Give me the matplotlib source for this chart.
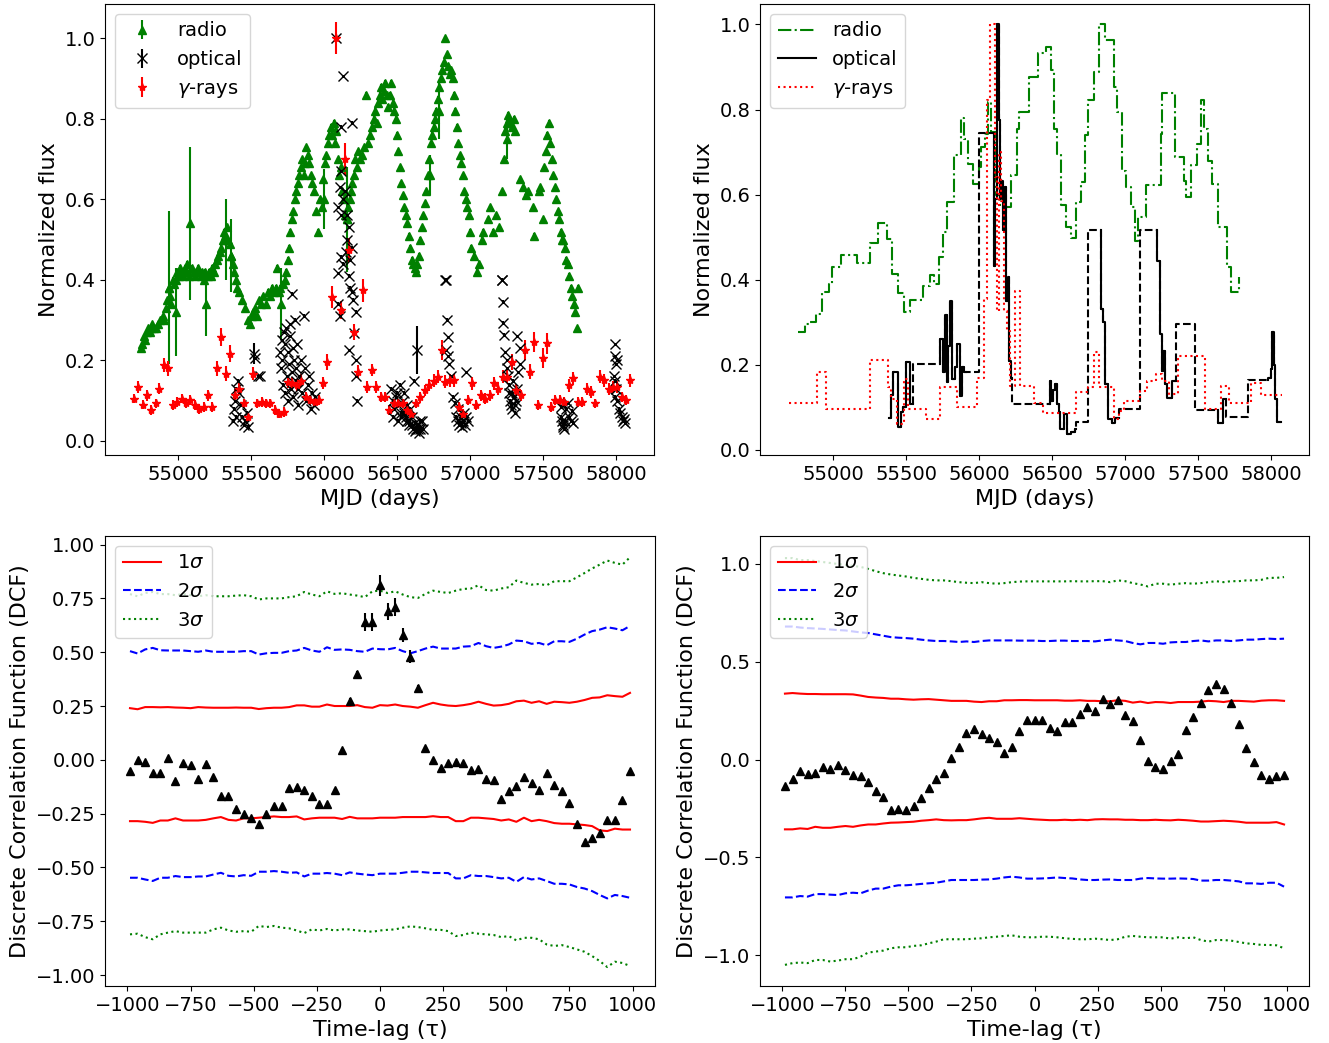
import matplotlib
matplotlib.use('Agg')
import matplotlib.pyplot as plt

# ---------------- Top-left: light curves ----------------
radio_mjd = [
    54745, 54755, 54765, 54775, 54785, 54795, 54805, 54815, 54825, 54835, 54850, 54865, 54880,
    54895, 54905, 54915, 54925, 54935, 54945, 54955, 54965, 54975,
    54985, 54995, 55005, 55015, 55025, 55035, 55045, 55055, 55065, 55075,
    55095, 55105, 55115, 55125, 55135, 55145, 55155, 55165, 55175, 55185,
    55205, 55215, 55225, 55235, 55245,
    55255, 55265, 55275, 55285, 55295, 55305, 55315, 55325, 55335, 55345,
    55355, 55365, 55375, 55385, 55395, 55405, 55420, 55440,
    55460, 55480, 55495, 55505, 55515, 55525, 55540, 55555, 55570, 55585, 55600,
    55615, 55630, 55645, 55660, 55670, 55680, 55690, 55700, 55720, 55730, 55740, 55750,
    55760, 55770, 55780, 55790, 55800, 55810, 55820, 55830, 55840, 55850,
    55860, 55870, 55880, 55890, 55900, 55910, 55920, 55930, 55945, 55960,
    55975, 55985, 55995, 56005, 56015, 56025, 56035, 56045, 56055, 56065,
    56075, 56085, 56095, 56105, 56115, 56125, 56135, 56145, 56155, 56165,
    56175, 56185,
    56195, 56205, 56215, 56225, 56235, 56245, 56260, 56275, 56290, 56300,
    56315, 56330, 56340, 56350, 56360, 56370, 56380, 56390, 56400, 56410,
    56420, 56430, 56440, 56450, 56460, 56470, 56480, 56490,
    56500, 56510, 56520, 56530, 56540, 56550, 56560, 56570, 56580, 56590,
    56600, 56610, 56620, 56630, 56640, 56650, 56660, 56670, 56680,
    56690, 56700, 56710, 56720, 56730, 56740, 56750, 56760, 56770, 56780,
    56790, 56800, 56810, 56820, 56830, 56840, 56850, 56860, 56870,
    56880, 56890, 56900, 56910, 56920, 56930, 56940, 56950, 56960, 56970,
    56980, 56990, 57000, 57010, 57030, 57050, 57060, 57080, 57090,
    57120, 57140, 57160, 57180, 57200,
    57220, 57230, 57240, 57250, 57260, 57270, 57280, 57290, 57300, 57310,
    57340, 57360, 57380, 57400, 57430, 57440, 57470, 57480,
    57500, 57510, 57520, 57530, 57540, 57550, 57560, 57570, 57580, 57590,
    57600, 57610, 57620, 57630, 57640, 57650, 57660, 57670, 57680, 57690,
    57700, 57710, 57720, 57730, 57740]
radio_flux = [
    0.23, 0.24, 0.26, 0.25, 0.27, 0.28, 0.27, 0.28, 0.29, 0.28, 0.28, 0.29, 0.30,
    0.31, 0.30, 0.33, 0.35, 0.38, 0.36, 0.34, 0.40, 0.39,
    0.40, 0.42, 0.41, 0.43, 0.42, 0.41, 0.43, 0.42, 0.44, 0.41,
    0.43, 0.42, 0.41, 0.42, 0.43, 0.42, 0.41, 0.42, 0.40, 0.42,
    0.41, 0.42, 0.41, 0.43, 0.42,
    0.44, 0.45, 0.46, 0.47, 0.48, 0.50, 0.52, 0.51, 0.53, 0.50,
    0.49, 0.46, 0.44, 0.42, 0.40, 0.38, 0.37, 0.35,
    0.33, 0.30, 0.29, 0.31, 0.32, 0.33, 0.31, 0.35, 0.34, 0.36, 0.34,
    0.37, 0.36, 0.38, 0.37, 0.38, 0.43, 0.37, 0.38, 0.39, 0.40, 0.42, 0.45,
    0.48, 0.52, 0.55, 0.57, 0.60, 0.62, 0.64, 0.66, 0.68, 0.70,
    0.66, 0.69, 0.73, 0.71, 0.69, 0.66, 0.64, 0.62, 0.57, 0.52,
    0.60, 0.58, 0.65, 0.69, 0.71, 0.74, 0.76, 0.78, 0.76, 0.79,
    0.74, 0.77, 0.70, 0.66, 0.68, 0.62, 0.60, 0.56, 0.55, 0.58,
    0.60, 0.62,
    0.64, 0.66, 0.70, 0.68, 0.72, 0.70, 0.71, 0.73, 0.86, 0.74,
    0.76, 0.78, 0.80, 0.82, 0.79, 0.84, 0.86, 0.88, 0.85, 0.87,
    0.89, 0.86, 0.83, 0.86, 0.89, 0.84, 0.82, 0.80,
    0.76, 0.72, 0.68, 0.64, 0.61, 0.58, 0.56, 0.54, 0.51, 0.48,
    0.45, 0.44, 0.43, 0.42, 0.44, 0.46, 0.50, 0.53, 0.56,
    0.59, 0.62, 0.66, 0.70, 0.74, 0.76, 0.78, 0.80, 0.82, 0.85,
    0.88, 0.90, 0.92, 0.94, 1.00, 0.96, 0.93, 0.91, 0.92,
    0.90, 0.86, 0.82, 0.78, 0.74, 0.71, 0.69, 0.66, 0.62, 0.60,
    0.58, 0.56, 0.52, 0.48, 0.46, 0.42, 0.44, 0.50, 0.52,
    0.55, 0.58, 0.52, 0.56, 0.53,
    0.62, 0.70, 0.77, 0.79, 0.81, 0.80, 0.79, 0.78, 0.80, 0.77,
    0.65, 0.63, 0.61, 0.62, 0.58, 0.51, 0.62, 0.63,
    0.55, 0.68, 0.72, 0.76, 0.79, 0.74, 0.70, 0.66, 0.63, 0.60,
    0.57, 0.55, 0.52, 0.50, 0.50, 0.48, 0.45, 0.44, 0.41, 0.38,
    0.36, 0.34, 0.32, 0.28, 0.38]

radio_big_mjd = [54940, 54988, 55085, 55195, 55328, 55365, 55705, 55998, 56156, 56727, 56788, 57250]
radio_big_flux = [0.38, 0.32, 0.54, 0.34, 0.50, 0.46, 0.34, 0.60, 0.55, 0.66, 0.82, 0.75]
radio_big_err = [0.19, 0.11, 0.19, 0.08, 0.10, 0.09, 0.09, 0.075, 0.13, 0.05, 0.07, 0.05]

opt_mjd = [
    55380, 55385, 55390, 55395, 55400, 55410, 55420, 55430, 55440, 55450, 55460, 55470, 55480,
    55530, 55545, 55560, 55779,
    55700, 55705, 55710, 55715, 55720, 55725, 55730, 55735, 55740, 55745,
    55750, 55755, 55760, 55765, 55770, 55775, 55780, 55785, 55790, 55795,
    55800, 55805, 55810, 55815, 55820, 55825, 55830,
    55840, 55850, 55860, 55870, 55880, 55890, 55900, 55910, 55920, 55930, 55940,
    56083, 56131, 56119, 56192, 56115, 56107, 56095, 56131, 56119, 56156,
    56168, 56156, 56192, 56119, 56131, 56095, 56168, 56180, 56192, 56095,
    56107, 56217, 56204, 56168, 56217, 56217, 56229, 56143, 56150, 56175,
    56200,
    56460, 56470, 56480, 56490, 56500, 56510, 56520, 56530, 56540, 56550,
    56560, 56570, 56580, 56590, 56600, 56610, 56620, 56630, 56640, 56650,
    56660, 56670, 56680,
    56615, 56475, 56505, 56525, 56545, 56565, 56585, 56605, 56625, 56645, 56655,
    56832, 56834, 56842, 56846, 56838, 56848, 56858, 56870, 56882, 56894,
    56906, 56915, 56925, 56935, 56945, 56955, 56965, 56975, 56985, 56970,
    56920, 56940, 56960,
    57219, 57222, 57226, 57228, 57233, 57238, 57250, 57255, 57260, 57265,
    57270, 57275, 57280, 57285, 57290, 57295, 57300, 57305, 57310, 57315,
    57320, 57325, 57345, 57330, 57340,
    57620, 57625, 57630, 57635, 57640, 57645, 57650, 57660, 57670, 57675, 57690, 57700, 57705,
    57990, 57995, 58000, 58005, 57985, 57990, 58000, 57995, 58010, 58020,
    58030, 58040, 58050, 58055, 58060]
opt_flux = [
    0.05, 0.08, 0.10, 0.06, 0.13, 0.15, 0.12, 0.09, 0.06, 0.04, 0.05, 0.07, 0.035,
    0.205, 0.16, 0.16, 0.366,
    0.22, 0.18, 0.25, 0.20, 0.14, 0.27, 0.12, 0.24, 0.28, 0.16,
    0.10, 0.22, 0.19, 0.26, 0.29, 0.13, 0.17, 0.23, 0.11, 0.20,
    0.30, 0.15, 0.18, 0.24, 0.13, 0.09, 0.16,
    0.20, 0.12, 0.31, 0.18, 0.10, 0.14, 0.16, 0.08, 0.12, 0.09, 0.11,
    1.0, 0.905, 0.78, 0.79, 0.67, 0.63, 0.58, 0.60, 0.56, 0.56,
    0.53, 0.50, 0.48, 0.457, 0.44, 0.416, 0.41, 0.38, 0.37, 0.34,
    0.31, 0.32, 0.267, 0.225, 0.20, 0.16, 0.10, 0.62, 0.47, 0.45,
    0.35,
    0.13, 0.10, 0.08, 0.11, 0.12, 0.09, 0.14, 0.07, 0.10, 0.12,
    0.06, 0.09, 0.05, 0.08, 0.04, 0.03, 0.025, 0.03, 0.04, 0.02,
    0.03, 0.05, 0.03,
    0.15, 0.06, 0.05, 0.06, 0.07, 0.05, 0.04, 0.06, 0.045, 0.03, 0.05,
    0.40, 0.40, 0.30, 0.257, 0.225, 0.21, 0.19, 0.16, 0.11, 0.095,
    0.06, 0.05, 0.04, 0.06, 0.035, 0.05, 0.04, 0.06, 0.05, 0.17,
    0.08, 0.045, 0.07,
    0.40, 0.40, 0.345, 0.293, 0.263, 0.22, 0.20, 0.18, 0.16, 0.14,
    0.12, 0.10, 0.09, 0.08, 0.12, 0.15, 0.11, 0.09, 0.07, 0.10,
    0.13, 0.26, 0.23, 0.17, 0.19,
    0.085, 0.06, 0.05, 0.04, 0.035, 0.03, 0.05, 0.08, 0.095, 0.06, 0.05, 0.075, 0.045,
    0.24, 0.21, 0.19, 0.20, 0.16, 0.15, 0.13, 0.11, 0.10, 0.08,
    0.07, 0.06, 0.05, 0.055, 0.045]

opt_big_mjd = [55523, 56635]
opt_big_flux = [0.217, 0.225]
opt_big_err = [0.025, 0.06]

gamma_mjd = [
    54696, 54725, 54757, 54786, 54818, 54847, 54873, 54903, 54934, 54964,
    54993, 55024, 55054, 55085, 55117, 55146, 55178, 55207, 55236, 55268,
    55297, 55328, 55355, 55389, 55418, 55450, 55479, 55511, 55540, 55572,
    55601, 55633, 55662, 55693, 55723, 55752, 55783, 55815, 55844, 55876,
    55905, 55937, 55966, 55993, 56022, 56053, 56083, 56114, 56143, 56173,
    56204, 56234, 56265, 56294, 56326, 56355, 56387, 56416, 56448, 56477,
    56509, 56538, 56569, 56598, 56630, 56659, 56691, 56720, 56752, 56781,
    56805, 56832, 56861, 56890, 56922, 56951, 56983, 57012, 57044, 57073,
    57104, 57134, 57165, 57194, 57226, 57255, 57287, 57316, 57348, 57377,
    57409, 57438, 57467, 57499, 57525, 57555, 57584, 57615, 57645, 57676,
    57705, 57737, 57766, 57798, 57827, 57859, 57888, 57920, 57949, 57981,
    58010, 58041, 58070, 58097]
gamma_flux = [
    0.105, 0.134, 0.090, 0.113, 0.076, 0.093, 0.130, 0.188, 0.180, 0.089,
    0.097, 0.105, 0.093, 0.101, 0.089, 0.080, 0.085, 0.113, 0.085, 0.180,
    0.258, 0.167, 0.217, 0.113, 0.130, 0.093, 0.060, 0.167, 0.093, 0.097,
    0.093, 0.093, 0.076, 0.068, 0.072, 0.147, 0.143, 0.138, 0.150, 0.109,
    0.101, 0.097, 0.101, 0.143, 0.196, 0.358, 1.000, 0.325, 0.700, 0.474,
    0.271, 0.172, 0.374, 0.134, 0.176, 0.134, 0.109, 0.109, 0.076, 0.093,
    0.093, 0.093, 0.076, 0.068, 0.093, 0.109, 0.126, 0.138, 0.150, 0.159,
    0.225, 0.147, 0.151, 0.151, 0.085, 0.068, 0.101, 0.143, 0.089, 0.113,
    0.105, 0.113, 0.143, 0.130, 0.159, 0.159, 0.196, 0.126, 0.113, 0.225,
    0.172, 0.246, 0.089, 0.205, 0.242, 0.085, 0.101, 0.101, 0.097, 0.138,
    0.155, 0.097, 0.097, 0.130, 0.122, 0.093, 0.159, 0.151, 0.130, 0.134,
    0.134, 0.109, 0.101, 0.151]
gamma_err = [
    0.012, 0.015, 0.012, 0.013, 0.012, 0.012, 0.014, 0.018, 0.018, 0.012,
    0.012, 0.012, 0.012, 0.012, 0.012, 0.012, 0.012, 0.014, 0.012, 0.018,
    0.022, 0.018, 0.020, 0.015, 0.015, 0.012, 0.012, 0.016, 0.012, 0.012,
    0.012, 0.012, 0.012, 0.012, 0.012, 0.015, 0.015, 0.015, 0.015, 0.013,
    0.012, 0.012, 0.012, 0.015, 0.020, 0.027, 0.040, 0.022, 0.040, 0.030,
    0.020, 0.016, 0.028, 0.015, 0.016, 0.015, 0.013, 0.013, 0.012, 0.012,
    0.012, 0.012, 0.012, 0.012, 0.012, 0.013, 0.014, 0.015, 0.015, 0.016,
    0.025, 0.016, 0.016, 0.016, 0.012, 0.012, 0.013, 0.016, 0.012, 0.013,
    0.013, 0.013, 0.016, 0.015, 0.016, 0.016, 0.020, 0.015, 0.013, 0.025,
    0.018, 0.025, 0.012, 0.025, 0.025, 0.012, 0.013, 0.013, 0.013, 0.016,
    0.016, 0.013, 0.013, 0.015, 0.015, 0.012, 0.016, 0.016, 0.015, 0.015,
    0.015, 0.013, 0.013, 0.016]

# ---------------- Top-right: block light curves ----------------
radio_blk_mjd = [
    54762, 54805, 54842, 54886, 54927, 54971, 54995, 55056, 55163, 55251,
    55309, 55372, 55406, 55445, 55487, 55528, 55616, 55664, 55689, 55725,
    55754, 55779, 55827, 55876, 55900, 55925, 55956, 56002, 56017, 56039,
    56063, 56083, 56114, 56143, 56217, 56258, 56277, 56345, 56406, 56460,
    56491, 56516, 56533, 56562, 56598, 56630, 56667, 56698, 56727, 56744,
    56788, 56820, 56866, 56922, 56946, 56976, 57007, 57039, 57068, 57092,
    57141, 57243, 57255, 57341, 57404, 57421, 57450, 57494, 57518, 57538,
    57567, 57596, 57640, 57701, 57725, 57778]
radio_blk_flux = [
    0.278, 0.296, 0.300, 0.320, 0.370, 0.390, 0.430, 0.457, 0.439, 0.486,
    0.533, 0.496, 0.414, 0.368, 0.323, 0.352, 0.386, 0.412, 0.390, 0.453,
    0.512, 0.582, 0.692, 0.779, 0.731, 0.673, 0.626, 0.665, 0.712, 0.743,
    0.818, 0.747, 0.600, 0.570, 0.645, 0.755, 0.794, 0.877, 0.932, 0.947,
    0.892, 0.755, 0.696, 0.575, 0.524, 0.498, 0.582, 0.630, 0.740, 0.822,
    0.889, 1.000, 0.963, 0.853, 0.794, 0.655, 0.618, 0.571, 0.490, 0.547,
    0.623, 0.743, 0.839, 0.688, 0.633, 0.594, 0.669, 0.720, 0.822, 0.755,
    0.680, 0.626, 0.525, 0.430, 0.370, 0.407]

opt_blk_mjd = [
    55382, 55394, 55414, 55443, 55465, 55479, 55499, 55528, 55547, 55730,
    55754, 55766, 55779, 55791, 55803, 55815, 55835, 55852, 55869, 55883,
    55900, 55912, 55997, 56102, 56112, 56122, 56126, 56136, 56143, 56151,
    56163, 56175, 56187, 56197, 56207, 56217, 56229, 56484, 56496, 56508,
    56521, 56533, 56545, 56557, 56581, 56606, 56630, 56655, 56667, 56744,
    56837, 56849, 56861, 56886, 56910, 56934, 56958, 57100, 57221, 57238,
    57251, 57263, 57275, 57287, 57323, 57348, 57479, 57636, 57670, 57692,
    57839, 57980, 58000, 58010, 58020, 58030, 58040, 58066]
opt_blk_flux = [
    0.076, 0.130, 0.184, 0.053, 0.088, 0.100, 0.206, 0.107, 0.202, 0.260,
    0.182, 0.316, 0.159, 0.245, 0.351, 0.166, 0.194, 0.249, 0.127, 0.194,
    0.184, 0.184, 0.745, 0.433, 0.590, 0.775, 1.000, 0.775, 0.590, 0.633,
    0.516, 0.618, 0.351, 0.406, 0.210, 0.170, 0.107, 0.162, 0.115, 0.140,
    0.155, 0.107, 0.088, 0.049, 0.084, 0.037, 0.041, 0.049, 0.066, 0.516,
    0.331, 0.300, 0.155, 0.072, 0.064, 0.076, 0.096, 0.516, 0.445, 0.272,
    0.186, 0.233, 0.155, 0.123, 0.162, 0.297, 0.094, 0.064, 0.120, 0.077,
    0.165, 0.170, 0.190, 0.276, 0.200, 0.120, 0.066, 0.066]
# 1 = densely sampled block (solid), 0 = gap between observations (dashed)
opt_blk_sampled = [
    1, 1, 1, 1, 1, 1, 1, 1, 0, 1,
    1, 1, 1, 1, 1, 1, 1, 1, 1, 1,
    1, 0, 0, 1, 1, 1, 1, 1, 1, 1,
    1, 1, 1, 1, 1, 1, 0, 1, 1, 1,
    1, 1, 1, 1, 1, 1, 1, 1, 0, 0,
    1, 1, 1, 1, 1, 1, 0, 0, 1, 1,
    1, 1, 1, 1, 1, 0, 0, 1, 1, 0,
    0, 1, 1, 1, 1, 1, 1, 1]

gamma_blk_mjd = [
    54696, 54891, 54951, 55251, 55377, 55394, 55440, 55487, 55511, 55640,
    55733, 55847, 55986, 56034, 56058, 56073, 56107, 56122, 56136, 56151,
    56170, 56190, 56209, 56246, 56280, 56375, 56436, 56667, 56744, 56788,
    56825, 56922, 56958, 56995, 57104, 57153, 57214, 57250, 57299, 57360,
    57545, 57658, 57715, 57862, 57930, 58077]
gamma_blk_flux = [
    0.110, 0.184, 0.096, 0.211, 0.147, 0.120, 0.060, 0.166, 0.096, 0.072,
    0.147, 0.101, 0.170, 0.355, 0.822, 1.000, 0.641, 0.327, 0.700, 0.586,
    0.327, 0.280, 0.150, 0.374, 0.150, 0.110, 0.086, 0.135, 0.147, 0.229,
    0.148, 0.072, 0.092, 0.114, 0.139, 0.162, 0.178, 0.162, 0.131, 0.221,
    0.096, 0.150, 0.111, 0.158, 0.129, 0.129]

# ---------------- Bottom: DCF ----------------
lags = [-990, -960, -930, -900, -870, -840, -810, -780, -750, -720,
        -690, -660, -630, -600, -570, -540, -510, -480, -450, -420,
        -390, -360, -330, -300, -270, -240, -210, -180, -150, -120,
        -90, -60, -30, 0, 30, 60, 90, 120, 150, 180,
        210, 240, 270, 300, 330, 360, 390, 420, 450, 480,
        510, 540, 570, 600, 630, 660, 690, 720, 750, 780,
        810, 840, 870, 900, 930, 960, 990]

dcf_ro = [-0.05, 0.0, -0.01, -0.06, -0.06, 0.01, -0.10, -0.014, -0.025, -0.087,
          -0.02, -0.08, -0.17, -0.17, -0.23, -0.25, -0.27, -0.30, -0.25, -0.215,
          -0.215, -0.13, -0.127, -0.14, -0.166, -0.204, -0.204, -0.14, 0.045, 0.275,
          0.40, 0.64, 0.64, 0.81, 0.69, 0.71, 0.58, 0.48, 0.334, 0.053,
          0.0, -0.04, -0.017, -0.01, -0.017, -0.045, -0.042, -0.09, -0.096, -0.18,
          -0.145, -0.12, -0.08, -0.11, -0.14, -0.06, -0.115, -0.145, -0.20, -0.30,
          -0.38, -0.365, -0.34, -0.28, -0.28, -0.185, -0.053]
dcf_ro_err = [0.008, 0.008, 0.008, 0.008, 0.008, 0.008, 0.008, 0.008, 0.008, 0.008,
              0.008, 0.008, 0.008, 0.008, 0.008, 0.008, 0.008, 0.008, 0.008, 0.008,
              0.008, 0.008, 0.008, 0.008, 0.008, 0.008, 0.008, 0.008, 0.008, 0.012,
              0.012, 0.040, 0.040, 0.050, 0.040, 0.040, 0.033, 0.030, 0.015, 0.010,
              0.008, 0.008, 0.008, 0.008, 0.008, 0.008, 0.008, 0.008, 0.008, 0.008,
              0.008, 0.008, 0.008, 0.008, 0.008, 0.008, 0.008, 0.008, 0.008, 0.008,
              0.008, 0.008, 0.008, 0.008, 0.008, 0.008, 0.008]
ro_up1 = [0.240, 0.235, 0.245, 0.245, 0.244, 0.245, 0.243, 0.242, 0.240, 0.245,
          0.243, 0.242, 0.242, 0.242, 0.243, 0.242, 0.242, 0.236, 0.240, 0.242,
          0.242, 0.245, 0.253, 0.253, 0.247, 0.247, 0.257, 0.250, 0.250, 0.250,
          0.254, 0.245, 0.242, 0.254, 0.252, 0.257, 0.250, 0.247, 0.242, 0.254,
          0.265, 0.257, 0.252, 0.250, 0.254, 0.260, 0.270, 0.260, 0.252, 0.254,
          0.260, 0.272, 0.275, 0.265, 0.272, 0.260, 0.270, 0.268, 0.265, 0.270,
          0.278, 0.288, 0.290, 0.300, 0.296, 0.293, 0.311]
ro_lo1 = [-0.285, -0.285, -0.288, -0.293, -0.282, -0.282, -0.272, -0.282, -0.282, -0.282,
          -0.279, -0.272, -0.266, -0.279, -0.282, -0.272, -0.272, -0.269, -0.266, -0.263,
          -0.266, -0.266, -0.263, -0.277, -0.272, -0.269, -0.269, -0.269, -0.275, -0.265,
          -0.272, -0.272, -0.272, -0.269, -0.269, -0.269, -0.266, -0.266, -0.266, -0.266,
          -0.262, -0.266, -0.266, -0.285, -0.285, -0.269, -0.269, -0.272, -0.275, -0.282,
          -0.277, -0.288, -0.269, -0.285, -0.279, -0.285, -0.294, -0.297, -0.297, -0.300,
          -0.303, -0.308, -0.328, -0.331, -0.320, -0.324, -0.324]
ro_up2 = [0.505, 0.494, 0.513, 0.520, 0.509, 0.508, 0.508, 0.508, 0.505, 0.502,
          0.508, 0.502, 0.502, 0.502, 0.502, 0.505, 0.505, 0.489, 0.495, 0.497,
          0.497, 0.505, 0.508, 0.520, 0.508, 0.502, 0.523, 0.511, 0.513, 0.511,
          0.505, 0.502, 0.517, 0.514, 0.513, 0.520, 0.505, 0.495, 0.505, 0.517,
          0.526, 0.517, 0.517, 0.517, 0.526, 0.528, 0.543, 0.528, 0.520, 0.526,
          0.536, 0.554, 0.551, 0.539, 0.543, 0.532, 0.551, 0.551, 0.548, 0.563,
          0.582, 0.598, 0.605, 0.616, 0.610, 0.602, 0.622]
ro_lo2 = [-0.548, -0.548, -0.556, -0.563, -0.548, -0.548, -0.540, -0.545, -0.545, -0.542,
          -0.542, -0.533, -0.525, -0.539, -0.542, -0.536, -0.539, -0.520, -0.520, -0.517,
          -0.520, -0.525, -0.523, -0.542, -0.529, -0.529, -0.526, -0.529, -0.536, -0.523,
          -0.529, -0.533, -0.536, -0.529, -0.529, -0.529, -0.525, -0.520, -0.520, -0.523,
          -0.526, -0.526, -0.526, -0.551, -0.551, -0.536, -0.540, -0.540, -0.545, -0.551,
          -0.548, -0.567, -0.545, -0.556, -0.551, -0.563, -0.576, -0.576, -0.579, -0.591,
          -0.598, -0.610, -0.628, -0.644, -0.628, -0.633, -0.641]
ro_up3 = [0.770, 0.760, 0.775, 0.780, 0.770, 0.770, 0.765, 0.770, 0.765, 0.760,
          0.765, 0.760, 0.760, 0.760, 0.763, 0.765, 0.760, 0.745, 0.750, 0.750,
          0.750, 0.756, 0.760, 0.780, 0.768, 0.760, 0.783, 0.771, 0.774, 0.768,
          0.763, 0.756, 0.783, 0.786, 0.775, 0.783, 0.768, 0.756, 0.752, 0.771,
          0.786, 0.780, 0.775, 0.786, 0.794, 0.796, 0.811, 0.789, 0.786, 0.796,
          0.802, 0.833, 0.822, 0.814, 0.817, 0.811, 0.830, 0.830, 0.830, 0.848,
          0.868, 0.889, 0.907, 0.926, 0.915, 0.907, 0.941]
ro_lo3 = [-0.811, -0.808, -0.824, -0.834, -0.811, -0.803, -0.796, -0.803, -0.803, -0.803,
          -0.803, -0.788, -0.780, -0.793, -0.799, -0.796, -0.799, -0.772, -0.777, -0.772,
          -0.780, -0.783, -0.793, -0.805, -0.788, -0.793, -0.786, -0.793, -0.788, -0.788,
          -0.793, -0.796, -0.799, -0.793, -0.790, -0.788, -0.780, -0.774, -0.777, -0.783,
          -0.790, -0.790, -0.796, -0.819, -0.814, -0.803, -0.808, -0.811, -0.814, -0.824,
          -0.819, -0.839, -0.827, -0.827, -0.834, -0.858, -0.865, -0.861, -0.870, -0.881,
          -0.892, -0.912, -0.935, -0.963, -0.938, -0.944, -0.958]

dcf_rg = [-0.135, -0.10, -0.058, -0.075, -0.07, -0.04, -0.05, -0.03, -0.055, -0.077,
          -0.083, -0.114, -0.16, -0.19, -0.26, -0.255, -0.26, -0.24, -0.195, -0.148,
          -0.10, -0.07, 0.01, 0.065, 0.136, 0.157, 0.13, 0.11, 0.09, 0.034,
          0.065, 0.146, 0.204, 0.204, 0.20, 0.163, 0.145, 0.19, 0.192, 0.235,
          0.27, 0.247, 0.31, 0.286, 0.306, 0.23, 0.197, 0.102, -0.007, -0.04,
          -0.046, -0.007, 0.03, 0.15, 0.218, 0.29, 0.354, 0.385, 0.36, 0.29,
          0.184, 0.06, -0.012, -0.077, -0.097, -0.085, -0.077]
rg_up1 = [0.337, 0.340, 0.337, 0.335, 0.335, 0.334, 0.334, 0.334, 0.334, 0.333,
          0.327, 0.320, 0.317, 0.315, 0.311, 0.311, 0.308, 0.306, 0.308, 0.309,
          0.306, 0.303, 0.300, 0.300, 0.300, 0.296, 0.294, 0.298, 0.298, 0.303,
          0.303, 0.304, 0.304, 0.303, 0.303, 0.303, 0.303, 0.301, 0.301, 0.303,
          0.300, 0.300, 0.298, 0.298, 0.303, 0.300, 0.291, 0.296, 0.289, 0.294,
          0.293, 0.289, 0.294, 0.294, 0.294, 0.296, 0.300, 0.298, 0.294, 0.300,
          0.300, 0.298, 0.296, 0.301, 0.303, 0.303, 0.300]
rg_lo1 = [-0.357, -0.357, -0.352, -0.355, -0.344, -0.349, -0.349, -0.344, -0.340, -0.344,
          -0.337, -0.332, -0.332, -0.327, -0.323, -0.322, -0.320, -0.318, -0.313, -0.310,
          -0.306, -0.310, -0.311, -0.310, -0.310, -0.306, -0.301, -0.298, -0.303, -0.303,
          -0.303, -0.300, -0.303, -0.306, -0.308, -0.310, -0.310, -0.308, -0.310, -0.308,
          -0.310, -0.306, -0.305, -0.306, -0.306, -0.308, -0.308, -0.310, -0.310, -0.308,
          -0.310, -0.311, -0.308, -0.310, -0.313, -0.317, -0.317, -0.315, -0.313, -0.315,
          -0.318, -0.323, -0.323, -0.323, -0.323, -0.320, -0.332]
rg_up2 = [0.680, 0.680, 0.675, 0.672, 0.670, 0.668, 0.665, 0.662, 0.660, 0.655,
          0.650, 0.647, 0.640, 0.633, 0.626, 0.623, 0.621, 0.618, 0.613, 0.609,
          0.606, 0.606, 0.604, 0.601, 0.604, 0.601, 0.606, 0.609, 0.609, 0.609,
          0.609, 0.608, 0.608, 0.608, 0.606, 0.606, 0.608, 0.608, 0.606, 0.606,
          0.606, 0.604, 0.609, 0.613, 0.609, 0.606, 0.596, 0.589, 0.596, 0.596,
          0.592, 0.599, 0.601, 0.601, 0.606, 0.609, 0.604, 0.609, 0.609, 0.606,
          0.609, 0.613, 0.613, 0.616, 0.618, 0.616, 0.618]
rg_lo2 = [-0.705, -0.705, -0.698, -0.701, -0.688, -0.688, -0.691, -0.693, -0.684, -0.681,
          -0.684, -0.670, -0.660, -0.660, -0.650, -0.643, -0.643, -0.640, -0.636, -0.633,
          -0.630, -0.623, -0.616, -0.616, -0.616, -0.616, -0.614, -0.613, -0.609, -0.603,
          -0.599, -0.603, -0.609, -0.609, -0.608, -0.606, -0.603, -0.606, -0.608, -0.613,
          -0.616, -0.616, -0.614, -0.613, -0.616, -0.616, -0.616, -0.609, -0.606, -0.608,
          -0.609, -0.609, -0.608, -0.609, -0.611, -0.619, -0.619, -0.616, -0.616, -0.619,
          -0.623, -0.633, -0.633, -0.636, -0.630, -0.630, -0.650]
rg_up3 = [1.030, 1.030, 1.020, 1.020, 1.015, 1.010, 1.005, 1.000, 0.995, 0.990,
          0.985, 0.975, 0.963, 0.953, 0.946, 0.941, 0.936, 0.929, 0.924, 0.919,
          0.916, 0.916, 0.912, 0.907, 0.904, 0.902, 0.907, 0.902, 0.899, 0.902,
          0.907, 0.910, 0.911, 0.911, 0.911, 0.911, 0.911, 0.911, 0.912, 0.911,
          0.911, 0.912, 0.912, 0.907, 0.916, 0.912, 0.902, 0.895, 0.885, 0.899,
          0.899, 0.894, 0.899, 0.902, 0.899, 0.902, 0.907, 0.912, 0.907, 0.912,
          0.912, 0.916, 0.916, 0.919, 0.929, 0.929, 0.933]
rg_lo3 = [-1.050, -1.041, -1.038, -1.041, -1.025, -1.025, -1.033, -1.028, -1.021, -1.021,
          -1.008, -0.987, -0.982, -0.977, -0.965, -0.960, -0.960, -0.953, -0.950, -0.940,
          -0.931, -0.919, -0.919, -0.919, -0.919, -0.916, -0.914, -0.909, -0.906, -0.902,
          -0.899, -0.906, -0.909, -0.909, -0.906, -0.906, -0.909, -0.914, -0.917, -0.919,
          -0.919, -0.916, -0.919, -0.923, -0.919, -0.906, -0.902, -0.906, -0.909, -0.909,
          -0.909, -0.916, -0.909, -0.914, -0.909, -0.923, -0.931, -0.923, -0.923, -0.926,
          -0.933, -0.940, -0.943, -0.948, -0.948, -0.950, -0.965]

# ---------------- Figure ----------------
plt.rcParams['font.family'] = ['DejaVu Sans']
plt.rcParams['xtick.labelsize'] = 14
plt.rcParams['ytick.labelsize'] = 14
plt.rcParams['axes.labelsize'] = 16
plt.rcParams['legend.fontsize'] = 14

W, H = 1329, 1043
fig = plt.figure(figsize=(W / 100, H / 100), dpi=100)
ax1 = fig.add_axes([105 / W, 1 - 455 / H, 549 / W, 451 / H])
ax2 = fig.add_axes([760 / W, 1 - 455 / H, 549 / W, 451 / H])
ax3 = fig.add_axes([105 / W, 1 - 986 / H, 550 / W, 450 / H])
ax4 = fig.add_axes([760 / W, 1 - 986 / H, 549 / W, 450 / H])

# Top-left
ax1.errorbar(radio_mjd, radio_flux, yerr=0.006, fmt='^', color='g', ms=6, label='radio')
ax1.errorbar(radio_big_mjd, radio_big_flux, yerr=radio_big_err, fmt='^', color='g', ms=6)
ax1.errorbar(opt_mjd, opt_flux, yerr=0.004, fmt='x', color='k', ms=7, label='optical')
ax1.errorbar(opt_big_mjd, opt_big_flux, yerr=opt_big_err, fmt='x', color='k', ms=7)
ax1.errorbar(gamma_mjd, gamma_flux, yerr=gamma_err, fmt='*', color='r', ms=6,
             label=r'$\gamma$-rays')
ax1.set_xlim(54500, 58260)
ax1.set_ylim(-0.035, 1.085)
ax1.set_xticks([55000, 55500, 56000, 56500, 57000, 57500, 58000])
ax1.set_yticks([0.0, 0.2, 0.4, 0.6, 0.8, 1.0])
ax1.set_xlabel('MJD (days)')
ax1.set_ylabel('Normalized flux')
ax1.legend(loc='upper left')

# Top-right
ax2.plot(radio_blk_mjd, radio_blk_flux, drawstyle='steps-post', ls='-.', color='g',
         lw=1.5, label='radio')
ax2.plot(opt_blk_mjd, opt_blk_flux, drawstyle='steps-post', ls='--', color='k', lw=1.5)
n = len(opt_blk_mjd)
i = 0
labelled = False
while i < n - 1:
    if opt_blk_sampled[i]:
        j = i
        while j < n - 1 and opt_blk_sampled[j]:
            j += 1
        px = list(opt_blk_mjd[i:j + 1])
        py = list(opt_blk_flux[i:j]) + [opt_blk_flux[j - 1]]
        if i > 0:
            px = [opt_blk_mjd[i]] + px
            py = [opt_blk_flux[i - 1]] + py
        ax2.plot(px, py, drawstyle='steps-post', ls='-', color='k', lw=1.5,
                 label=None if labelled else 'optical')
        labelled = True
        i = j
    else:
        i += 1
ax2.plot(gamma_blk_mjd, gamma_blk_flux, drawstyle='steps-post', ls=':', color='r',
         lw=1.5, label=r'$\gamma$-rays')
ax2.set_xlim(54500, 58260)
ax2.set_ylim(-0.012, 1.048)
ax2.set_xticks([55000, 55500, 56000, 56500, 57000, 57500, 58000])
ax2.set_yticks([0.0, 0.2, 0.4, 0.6, 0.8, 1.0])
ax2.set_xlabel('MJD (days)')
ax2.set_ylabel('Normalized flux')
ax2.legend(loc='upper left')

# Bottom-left
ax3.plot(lags, ro_up1, '-', color='r', label=r'$1\sigma$')
ax3.plot(lags, ro_lo1, '-', color='r')
ax3.plot(lags, ro_up2, '--', color='b', label=r'$2\sigma$')
ax3.plot(lags, ro_lo2, '--', color='b')
ax3.plot(lags, ro_up3, ':', color='g', label=r'$3\sigma$')
ax3.plot(lags, ro_lo3, ':', color='g')
ax3.errorbar(lags, dcf_ro, yerr=dcf_ro_err, fmt='^', color='k', ms=6)
ax3.set_xlim(-1089, 1089)
ax3.set_ylim(-1.051, 1.04)
ax3.set_xticks([-1000, -750, -500, -250, 0, 250, 500, 750, 1000])
ax3.set_yticks([-1.0, -0.75, -0.5, -0.25, 0.0, 0.25, 0.5, 0.75, 1.0])
ax3.set_xlabel('Time-lag (τ)')
ax3.set_ylabel('Discrete Correlation Function (DCF)')
ax3.legend(loc='upper left')

# Bottom-right
ax4.plot(lags, rg_up1, '-', color='r', label=r'$1\sigma$')
ax4.plot(lags, rg_lo1, '-', color='r')
ax4.plot(lags, rg_up2, '--', color='b', label=r'$2\sigma$')
ax4.plot(lags, rg_lo2, '--', color='b')
ax4.plot(lags, rg_up3, ':', color='g', label=r'$3\sigma$')
ax4.plot(lags, rg_lo3, ':', color='g')
ax4.errorbar(lags, dcf_rg, yerr=0.008, fmt='^', color='k', ms=6)
ax4.set_xlim(-1089, 1089)
ax4.set_ylim(-1.158, 1.143)
ax4.set_xticks([-1000, -750, -500, -250, 0, 250, 500, 750, 1000])
ax4.set_yticks([-1.0, -0.5, 0.0, 0.5, 1.0])
ax4.set_xlabel('Time-lag (τ)')
ax4.set_ylabel('Discrete Correlation Function (DCF)')
ax4.legend(loc='upper left')

fig.savefig('out.png', dpi=100)
